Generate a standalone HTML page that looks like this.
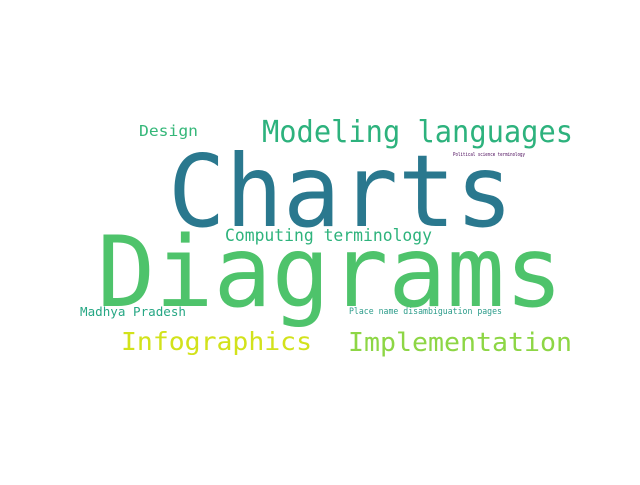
<!DOCTYPE html>
<html><head><meta charset="utf-8"><style>
html,body{margin:0;padding:0;background:#fff;}
svg text{font-family:"DejaVu Sans Mono","Liberation Mono",monospace;}
</style></head><body>
<svg width="640" height="480" viewBox="0 0 640 480">
<rect width="640" height="480" fill="#fff"/>
<g id="words"></g>
</svg>
<script>
const words=["Charts","Diagrams","Modeling languages","Design","Political science terminology","Computing terminology","Madhya Pradesh","Place name disambiguation pages","Infographics","Implementation"];
const sizes=[100,98,30,15,5,17,12,9,25,26];
const colors=["#2a788e","#4ec36b","#2db27d","#35b779","#440154","#2eb37c","#26a784","#2c9c8a","#d2e21b","#8dd645"];
const xs=[168,97,262,139,453,225,80,349,121,348];
const ws=[345,466,311,59,72,207,106,153,191,224];
const ys=[226,306,142,136,156,241,316,314,350,351];
const g=document.getElementById('words');
words.forEach((w,i)=>{
 const t=document.createElementNS('http://www.w3.org/2000/svg','text');
 
 
 t.setAttribute('x',xs[i]);t.setAttribute('y',ys[i]);
 t.setAttribute('font-size',sizes[i]);t.setAttribute('fill',colors[i]);
 t.setAttribute('textLength',ws[i]);t.setAttribute('lengthAdjust','spacingAndGlyphs');
 t.textContent=w;g.appendChild(t);
});
</script>
</body></html>
